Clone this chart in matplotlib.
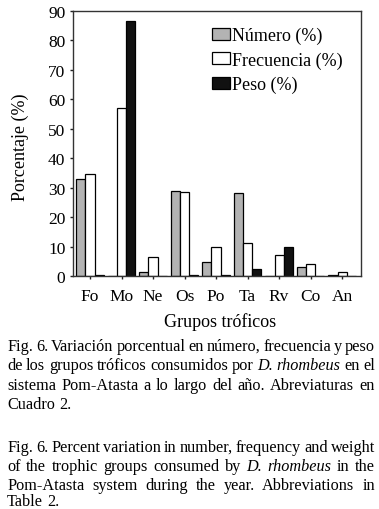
import numpy as np
import matplotlib
matplotlib.use("Agg")
import matplotlib.pyplot as plt

plt.rcParams['font.family'] = ['Liberation Serif', 'DejaVu Serif']

# trophic groups and percentages
groups = ['Fo', 'Mo', 'Ne', 'Os', 'Po', 'Ta', 'Rv', 'Co', 'An']
numero = [33.0, 0.0, 1.5, 28.7, 4.7, 28.2, 0.0, 3.0, 0.5]
frecuencia = [34.5, 57.0, 6.5, 28.5, 9.8, 11.3, 7.0, 4.0, 1.5]
peso = [0.3, 86.5, 0.0, 0.2, 0.2, 2.3, 10.0, 0.1, 0.0]
series_labels = ['Número (%)', 'Frecuencia (%)', 'Peso (%)']
yticks = [0, 10, 20, 30, 40, 50, 60, 70, 80, 90]

caption_es = [
    "Fig. 6. Variación porcentual en número, frecuencia y peso",
    "de los grupos tróficos consumidos por *D. *rhombeus en el",
    "sistema Pom-Atasta a lo largo del año. Abreviaturas en",
    "Cuadro 2.",
]
caption_en = [
    "Fig. 6. Percent variation in number, frequency and weight",
    "of the trophic groups consumed by *D. *rhombeus in the",
    "Pom-Atasta system during the year. Abbreviations in",
    "Table 2.",
]

W, H = 379, 510
fig = plt.figure(figsize=(W / 100, H / 100), dpi=100)
ax = fig.add_axes([73 / W, 1 - 277 / H, 288 / W, 265 / H])

x = np.arange(len(groups))
w = 0.29
kw = dict(edgecolor='black', linewidth=0.9)
ax.bar(x - w, numero, w, color='#b3b3b3', label=series_labels[0], **kw)
ax.bar(x, frecuencia, w, color='white', label=series_labels[1], **kw)
ax.bar(x + w, peso, w, color='#111111', label=series_labels[2], **kw)

ax.set_xlim(-0.54, 8.6)
ax.set_ylim(0, 90)
ax.set_yticks(yticks)
ax.set_xticks(x)
ax.set_xticklabels(groups)
ax.tick_params(axis='both', direction='out', length=2.5, width=1, labelsize=12.5, color='#222222')
ax.tick_params(axis='x', pad=6)
ax.tick_params(axis='y', pad=3)
for s in ax.spines.values():
    s.set_linewidth(1.0)
    s.set_color('#333333')

leg = ax.legend(loc='upper left', bbox_to_anchor=(0.483, 0.94), frameon=False,
                fontsize=13, handlelength=1.0, handleheight=0.65,
                handletextpad=0.1, labelspacing=0.4, borderpad=0, borderaxespad=0)

fig.text(20 / W, 1 - 147 / H, 'Porcentaje (%)', rotation=90, ha='center', va='center', fontsize=13)
fig.text(220 / W, 1 - 322 / H, 'Grupos tróficos', ha='center', va='center', fontsize=13)

# justified caption, words wrapped in * are italic
renderer = fig.canvas.get_renderer()
x0, x1 = 7, 375
size = 11.7


def draw_line(line, ybase, justify):
    parts = line.replace('*D. *', '\x01D.\x01 ').split(' ')
    words = []
    for p in parts:
        if p.startswith('\x01'):
            words.append((p.strip('\x01'), 'italic'))
        elif p == 'rhombeus':
            words.append((p, 'italic'))
        else:
            words.append((p, 'normal'))
    texts = []
    widths = []
    for t, st in words:
        tx = fig.text(0, 1 - ybase / H, t, fontsize=size, style=st, va='baseline', ha='left')
        texts.append(tx)
        widths.append(tx.get_window_extent(renderer).width)
    space = 0.25 * size * 100 / 72
    if justify and len(words) > 1:
        space = max((x1 - x0 - sum(widths)) / (len(words) - 1), 1.5)
    cur = x0
    for tx, wd in zip(texts, widths):
        tx.set_x(cur / W)
        cur += wd + space


for lines, ys in [(caption_es, [351, 370, 390, 409]), (caption_en, [452, 471, 490, 506])]:
    for i, (ln, yb) in enumerate(zip(lines, ys)):
        draw_line(ln, yb, i < len(lines) - 1)

fig.savefig('out.png', dpi=100)
